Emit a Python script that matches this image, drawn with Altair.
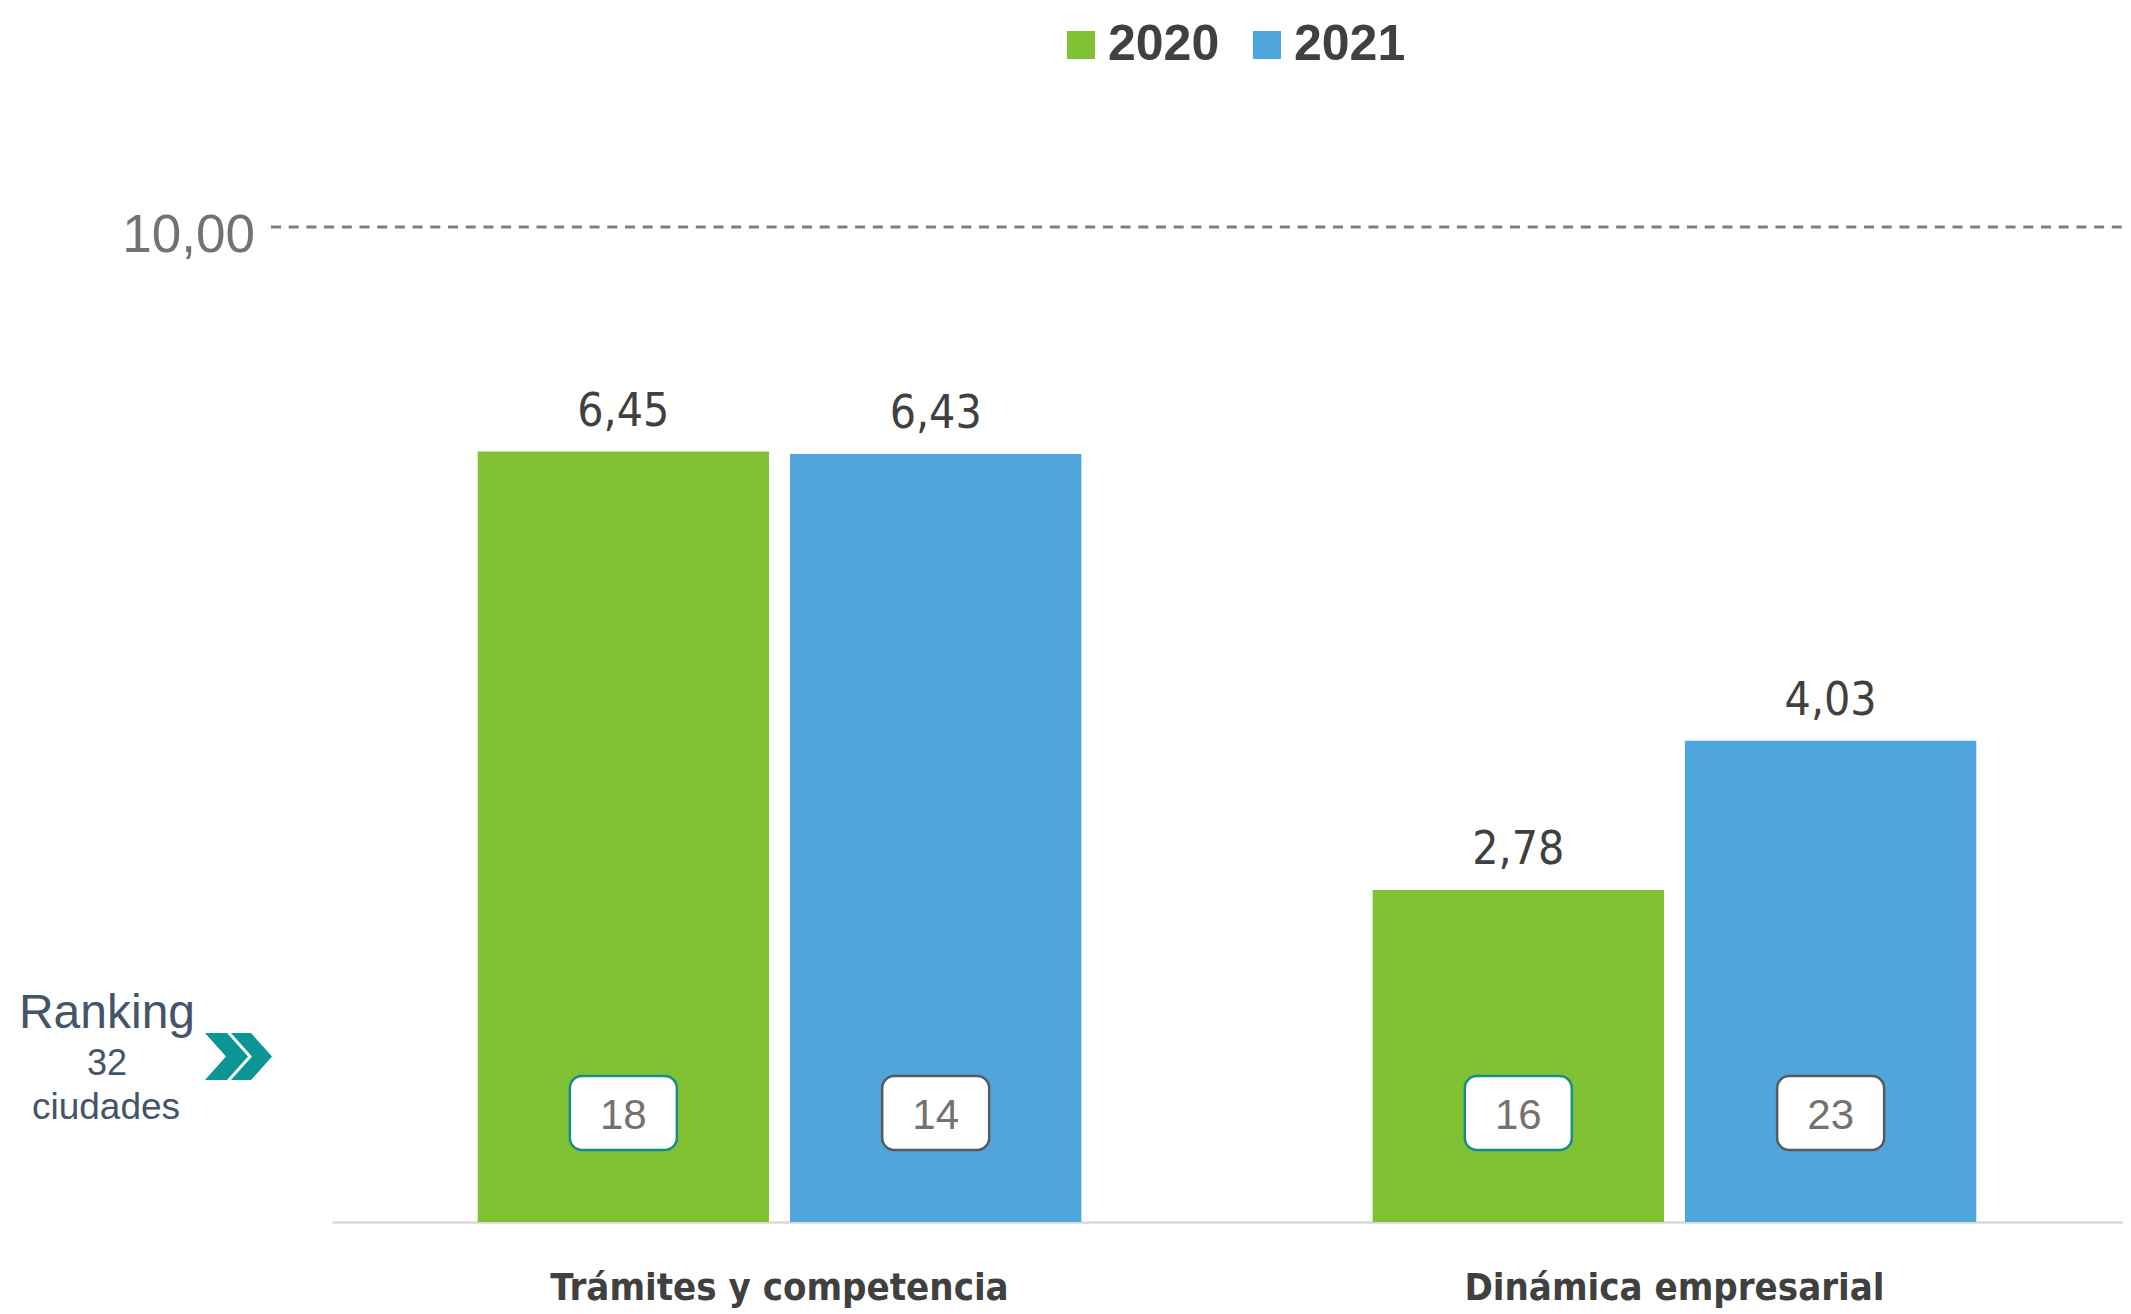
import altair as alt
import pandas as pd

# ---- data ----
categories = ["Trámites y competencia", "Dinámica empresarial"]
years = ["2020", "2021"]
values_2020 = [6.45, 2.78]
values_2021 = [6.43, 4.03]
ranks_2020 = [18, 16]
ranks_2021 = [14, 23]
ranking_lines = ["Ranking", "32", "ciudades"]
reference_label = ["10,00"]

# visual top of the plot (where the decorative "10,00" line sits)
Y_TOP = 8.33

GREEN = "#80C233"
BLUE = "#4FA6DC"
COND = "DejaVu Sans Condensed, sans-serif"
SANS = "Liberation Sans, Arial, sans-serif"

rows = []
for i, c in enumerate(categories):
    for y, vals, rks in (("2020", values_2020, ranks_2020), ("2021", values_2021, ranks_2021)):
        rows.append({
            "categoria": c,
            "anio": y,
            "valor": vals[i],
            "etiqueta": f"{vals[i]:.2f}".replace(".", ","),
            "ranking": str(rks[i]),
        })
df = pd.DataFrame(rows)

base = alt.Chart(df).encode(
    x=alt.X(
        "categoria:N",
        sort=categories,
        scale=alt.Scale(paddingInner=0.3255, paddingOuter=0.1628),
        axis=alt.Axis(
            title=None, labelAngle=0, ticks=False, grid=False,
            domainColor="#d9d9d9", domainWidth=2.5,
            labelFont=COND, labelFontSize=38, labelFontWeight="bold",
            labelColor="#404040", labelPadding=47, labelLimit=0,
        ),
    ),
    xOffset=alt.XOffset("anio:N", sort=years,
                        scale=alt.Scale(paddingInner=0.0673, paddingOuter=0)),
)

bars = base.mark_bar().encode(
    y=alt.Y("valor:Q", scale=alt.Scale(domain=[0, Y_TOP], nice=False, zero=True), axis=None),
    color=alt.Color(
        "anio:N",
        sort=years,
        scale=alt.Scale(domain=years, range=[GREEN, BLUE]),
        legend=alt.Legend(
            title=None, orient="none", legendX=724, legendY=-207,
            direction="horizontal", symbolType="square", symbolSize=784,
            symbolStrokeWidth=0, labelFont=SANS, labelFontSize=50,
            labelFontWeight="bold", labelColor="#404040", labelOffset=2,
            columnPadding=22, padding=0,
        ),
    ),
)

value_labels = base.mark_text(
    dy=-26, baseline="alphabetic", font=COND, fontSize=46, color="#404040"
).encode(y="valor:Q", text="etiqueta:N")

badges = base.mark_bar(
    width=107, cornerRadius=12, fill="white", strokeWidth=2.5
).encode(
    y=alt.value(849),
    y2=alt.value(923),
    stroke=alt.Stroke("anio:N", scale=alt.Scale(domain=years, range=["#178C8C", "#595959"]), legend=None),
)

badge_text = base.mark_text(
    font=SANS, fontSize=42, color="#767171", baseline="middle"
).encode(y=alt.value(889), text="ranking:N")

ref_df = pd.DataFrame({"ref": reference_label})
ref_rule = alt.Chart(ref_df).mark_rule(
    strokeDash=[10, 7.7], strokeWidth=3, color="#7f7f7f"
).encode(x=alt.value(-61), x2=alt.value(1791), y=alt.value(0))

ref_text = alt.Chart(ref_df).mark_text(
    align="right", baseline="alphabetic", font=SANS, fontSize=53, color="#767171"
).encode(x=alt.value(-77), y=alt.value(25), text="ref:N")

rk_df = pd.DataFrame({"t": ranking_lines})
rk1 = alt.Chart(rk_df).transform_filter(alt.datum.t == ranking_lines[0]).mark_text(
    align="center", baseline="alphabetic", font=SANS, fontSize=48, color="#44546A"
).encode(x=alt.value(-225), y=alt.value(801), text="t:N")
rk2 = alt.Chart(rk_df).transform_filter(alt.datum.t == ranking_lines[1]).mark_text(
    align="center", baseline="alphabetic", font=SANS, fontSize=36, color="#44546A"
).encode(x=alt.value(-225), y=alt.value(848), text="t:N")
rk3 = alt.Chart(rk_df).transform_filter(alt.datum.t == ranking_lines[2]).mark_text(
    align="center", baseline="alphabetic", font=SANS, fontSize=37, color="#44546A"
).encode(x=alt.value(-226), y=alt.value(892), text="t:N")

CHEVRON = ("M-1,-0.701L-0.343,-0.701L0.284,0L-0.343,0.701L-1,0.701L-0.373,0Z"
           "M-0.224,-0.701L0.373,-0.701L1,0L0.373,0.701L-0.224,0.701L0.403,0Z")
chevron = alt.Chart(rk_df).transform_filter(alt.datum.t == ranking_lines[0]).mark_point(
    shape=CHEVRON, size=4489, filled=True, color="#0B9595", opacity=1, strokeWidth=0
).encode(x=alt.value(-93.5), y=alt.value(829.5))

chart = alt.layer(
    bars, value_labels, badges, badge_text, ref_rule, ref_text, rk1, rk2, rk3, chevron
).properties(
    width=1790,
    height=995,
    autosize=alt.AutoSizeParams(type="none"),
    padding={"left": 324, "top": 219, "right": 1, "bottom": 90},
    background="white",
).configure_view(stroke=None)

chart.save("out.html", embed_options={"renderer": "svg", "actions": False})
